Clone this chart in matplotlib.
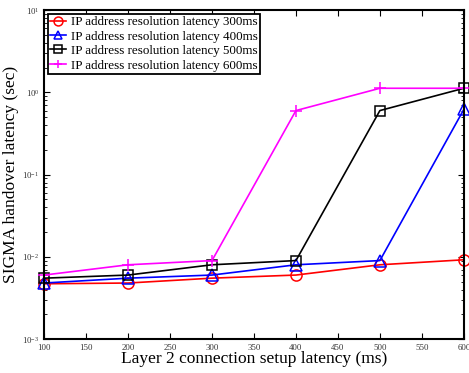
import numpy as np
import matplotlib
matplotlib.use("Agg")
import matplotlib.pyplot as plt
from matplotlib.ticker import LogLocator, NullFormatter

plt.rcParams["font.family"] = ["Liberation Serif", "DejaVu Serif"]
plt.rcParams["mathtext.fontset"] = "stix"

l2_latency = [100, 200, 300, 400, 500, 600]
lat_300 = [0.0047, 0.0048, 0.0055, 0.0060, 0.0080, 0.0092]
lat_400 = [0.0048, 0.0055, 0.0060, 0.0080, 0.0090, 0.62]
lat_500 = [0.0055, 0.0060, 0.0080, 0.0090, 0.60, 1.12]
lat_600 = [0.0060, 0.0080, 0.0090, 0.60, 1.12, 1.12]

series = [
    (lat_300, "IP address resolution latency 300ms", "red", "o"),
    (lat_400, "IP address resolution latency 400ms", "blue", "^"),
    (lat_500, "IP address resolution latency 500ms", "black", "s"),
    (lat_600, "IP address resolution latency 600ms", "magenta", "+"),
]

fig = plt.figure(figsize=(4.69, 3.73), dpi=100)
ax = fig.add_axes([0.094, 0.091, 0.895, 0.882])
for y, lbl, c, m in series:
    ax.plot(l2_latency, y, color=c, marker=m, mfc="none", mec=c, ms=8 if m != "s" else 7,
            mew=1.1, lw=1.2, label=lbl, clip_on=False)

ax.set_yscale("log")
ax.set_ylim(1e-3, 10)
ax.set_xlim(100, 600)
ax.set_xticks(np.arange(100, 601, 50))
ax.yaxis.set_minor_locator(LogLocator(base=10, subs=np.arange(2, 10)))
ax.yaxis.set_minor_formatter(NullFormatter())
ax.tick_params(which="both", direction="in", top=True, right=True, labelsize=6.3, labelcolor="#333333")
ax.tick_params(which="major", length=4)
ax.tick_params(which="minor", length=2)
for sp in ax.spines.values():
    sp.set_linewidth(1.5)

ax.set_xlabel("Layer 2 connection setup latency (ms)", fontsize=12.5, labelpad=-1)
ax.set_ylabel("SIGMA handover latency (sec)", fontsize=12.5, labelpad=2)

leg = ax.legend(loc="upper left", fontsize=9.4, fancybox=False, edgecolor="black",
                framealpha=1, borderpad=0.15, labelspacing=0.18, handlelength=1.2,
                handletextpad=0.4, borderaxespad=0.3, markerscale=0.8)
leg.get_frame().set_linewidth(1.3)

fig.savefig("out.png", dpi=100)
